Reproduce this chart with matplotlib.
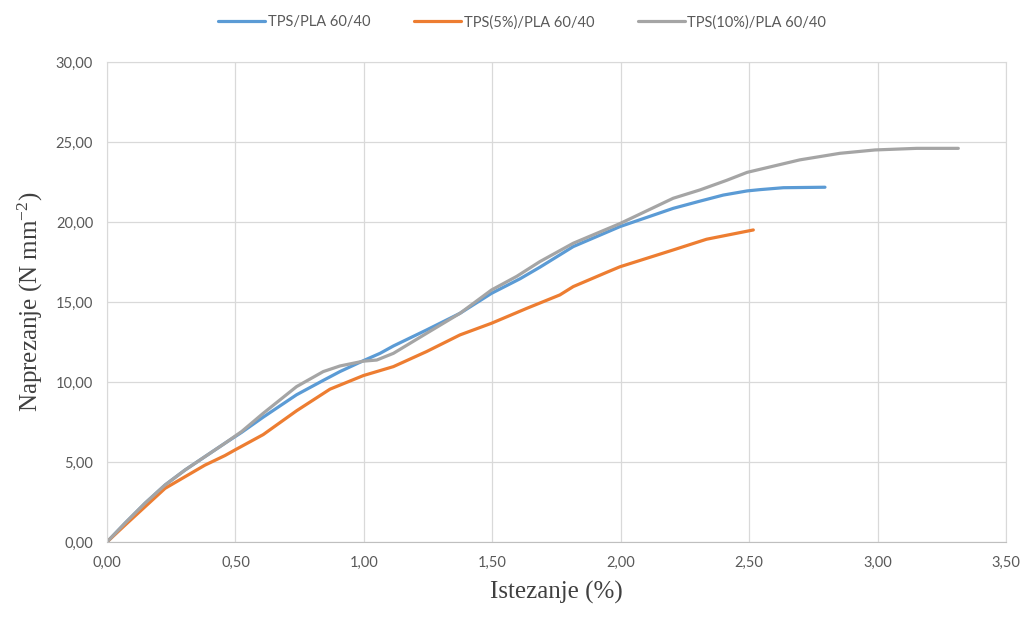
import matplotlib
matplotlib.use("Agg")
from matplotlib import pyplot as plt

# ocitano sa slike (istezanje %, naprezanje N/mm2)
x_tps = [0, 0.07, 0.148, 0.226, 0.304, 0.381, 0.459, 0.524, 0.608, 0.738, 0.842, 0.907, 0.998,
         1.063, 1.115, 1.244, 1.374, 1.497, 1.608, 1.685, 1.815, 1.997, 2.204, 2.308, 2.399,
         2.492, 2.542, 2.633, 2.795]
y_tps = [0, 1.17, 2.42, 3.56, 4.5, 5.33, 6.17, 6.85, 7.8, 9.2, 10.1, 10.65, 11.33,
         11.79, 12.25, 13.25, 14.29, 15.54, 16.45, 17.17, 18.46, 19.71, 20.85, 21.3, 21.68,
         21.94, 22.02, 22.14, 22.17]

x_tps5 = [0, 0.07, 0.148, 0.226, 0.304, 0.381, 0.459, 0.498, 0.608, 0.738, 0.868, 0.998, 1.115,
          1.244, 1.374, 1.497, 1.634, 1.763, 1.815, 1.945, 1.997, 2.204, 2.334, 2.516]
y_tps5 = [0, 1.05, 2.2, 3.35, 4.08, 4.8, 5.4, 5.75, 6.71, 8.2, 9.55, 10.4, 10.96,
          11.9, 12.94, 13.67, 14.6, 15.44, 15.96, 16.85, 17.2, 18.25, 18.92, 19.5]

x_tps10 = [0, 0.07, 0.148, 0.226, 0.304, 0.381, 0.459, 0.524, 0.608, 0.738, 0.842, 0.907, 0.998,
           1.05, 1.115, 1.244, 1.374, 1.497, 1.595, 1.685, 1.815, 1.997, 2.204, 2.308, 2.412,
           2.492, 2.697, 2.853, 2.99, 3.152, 3.314]
y_tps10 = [0, 1.17, 2.42, 3.56, 4.5, 5.33, 6.17, 6.9, 8.04, 9.71, 10.65, 11.0, 11.3,
           11.37, 11.79, 13.04, 14.29, 15.75, 16.6, 17.52, 18.67, 19.9, 21.48, 22.0, 22.6,
           23.1, 23.88, 24.29, 24.5, 24.6, 24.6]

labels = ["TPS/PLA 60/40", "TPS(5%)/PLA 60/40", "TPS(10%)/PLA 60/40"]
x_ticks = [0, 0.5, 1.0, 1.5, 2.0, 2.5, 3.0, 3.5]
y_ticks = [0, 5, 10, 15, 20, 25, 30]

plt.rcParams['font.family'] = ['Lato', 'DejaVu Sans']
plt.rcParams['mathtext.fontset'] = 'custom'
plt.rcParams['mathtext.rm'] = 'Liberation Serif'
plt.rcParams['mathtext.it'] = 'Liberation Serif:italic'

fig = plt.figure(figsize=(10.24, 6.17), dpi=100)
ax = fig.add_axes([0.1045, 0.1216, 0.878, 0.778])

ax.plot(x_tps, y_tps, color="#5B9BD5", lw=2.3, label=labels[0], solid_capstyle='round', solid_joinstyle='round')
ax.plot(x_tps5, y_tps5, color="#ED7D31", lw=2.3, label=labels[1], solid_capstyle='round', solid_joinstyle='round')
ax.plot(x_tps10, y_tps10, color="#A5A5A5", lw=2.3, label=labels[2], solid_capstyle='round', solid_joinstyle='round')

ax.set_xlim(0, 3.5)
ax.set_ylim(0, 30)
ax.set_xticks(x_ticks)
ax.set_yticks(y_ticks)
ax.set_xticklabels([f"{v:.2f}".replace('.', ',') for v in x_ticks])
ax.set_yticklabels([f"{v:.2f}".replace('.', ',') for v in y_ticks])
ax.tick_params(length=0, labelsize=10.5, colors="#595959", pad=10)
ax.grid(True, color="#D9D9D9", lw=0.9)
ax.set_axisbelow(True)
for s in ax.spines.values():
    s.set_color("#D9D9D9")
ax.spines['bottom'].set_color("#BFBFBF")

ax.set_xlabel("Istezanje (%)", family="Liberation Serif", fontsize=18, color="#404040", labelpad=8)
ax.set_ylabel(r"Naprezanje (N mm$\mathregular{^{-2}}$)", family="Liberation Serif", fontsize=18,
              color="#404040", labelpad=8)

fig.legend(loc="center", bbox_to_anchor=(0.51, 0.964), ncol=3, frameon=False,
           fontsize=10.5, handlelength=3.2, columnspacing=3.0, handletextpad=0.2,
           labelcolor="#595959")

fig.savefig("out.png", dpi=100)
